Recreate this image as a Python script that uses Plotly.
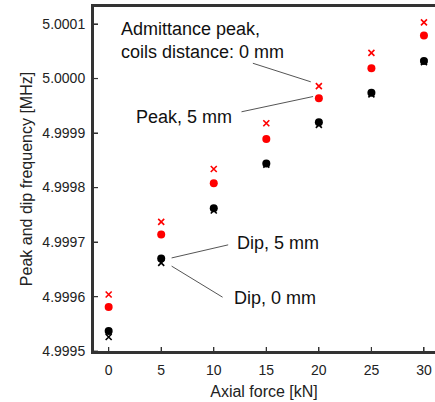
import plotly.graph_objects as go

# axial force [kN]
force = [0, 5, 10, 15, 20, 25, 30]

# peak / dip frequencies [MHz]
peak_0mm = [4.999604, 4.999737, 4.999834, 4.999918, 4.999986, 5.000047, 5.000103]
peak_5mm = [4.999581, 4.999714, 4.999808, 4.999889, 4.999964, 5.000019, 5.000079]
dip_5mm = [4.999537, 4.999670, 4.999762, 4.999844, 4.999920, 4.999974, 5.000032]
dip_0mm = [4.999526, 4.999662, 4.999758, 4.999842, 4.999915, 4.999971, 5.000030]

y_ticks = [4.9995, 4.9996, 4.9997, 4.9998, 4.9999, 5.0000, 5.0001]

font_family = "Liberation Sans, Arial, sans-serif"
axis_col = '#333333'

fig = go.Figure()
fig.add_trace(go.Scatter(x=force, y=peak_0mm, mode='markers',
                         marker=dict(symbol='x-thin', size=6, color='red',
                                     line=dict(color='red', width=1.6))))
fig.add_trace(go.Scatter(x=force, y=dip_0mm, mode='markers',
                         marker=dict(symbol='x-thin', size=6, color='black',
                                     line=dict(color='black', width=1.6))))
fig.add_trace(go.Scatter(x=force, y=peak_5mm, mode='markers',
                         marker=dict(symbol='circle', size=8, color='red')))
fig.add_trace(go.Scatter(x=force, y=dip_5mm, mode='markers',
                         marker=dict(symbol='circle', size=8, color='black')))

# leader lines
leaders = [
    (13.72, 5.000028, 19.23, 4.999994),
    (12.64, 4.999939, 19.45, 4.999967),
    (5.99, 4.999671, 11.37, 4.999695),
    (5.99, 4.999656, 10.84, 4.999599),
]
for x0, y0, x1, y1 in leaders:
    fig.add_shape(type='line', x0=x0, y0=y0, x1=x1, y1=y1, xref='x', yref='y',
                  line=dict(color='#555555', width=1))

labels = [
    (1.0, 5.000069, "Admittance peak,<br>coils distance: 0 mm"),
    (2.4, 4.999930, "Peak, 5 mm"),
    (12.0, 4.999698, "Dip, 5 mm"),
    (11.75, 4.999597, "Dip, 0 mm"),
]
for x, y, t in labels:
    fig.add_annotation(x=x, y=y, text=t, showarrow=False, xanchor='left',
                       yanchor='middle', align='left',
                       font=dict(size=18, color='#111111', family=font_family))

# frame (left, bottom, top) and inside ticks
frame = dict(color=axis_col, width=2)
fig.add_shape(type='line', xref='paper', yref='paper', x0=0, x1=0, y0=0, y1=1, line=frame, layer='above')
fig.add_shape(type='line', xref='paper', yref='paper', x0=0, x1=1, y0=0, y1=0, line=frame, layer='above')
fig.add_shape(type='line', xref='paper', yref='paper', x0=0, x1=1, y0=1, y1=1, line=frame, layer='above')
for v in force:
    fig.add_shape(type='line', xref='x', yref='paper', x0=v, x1=v, y0=0, y1=5 / 346,
                  line=dict(color=axis_col, width=1.2), layer='above')
for v in y_ticks:
    fig.add_shape(type='line', xref='paper', yref='y', x0=0, x1=5 / 342, y0=v, y1=v,
                  line=dict(color=axis_col, width=1.2), layer='above')

fig.update_layout(
    width=435, height=402,
    margin=dict(l=93, r=0, t=6, b=50),
    plot_bgcolor='white', paper_bgcolor='white',
    showlegend=False,
    font=dict(family=font_family, color='#222222'),
)
fig.update_xaxes(range=[-1.49, 31.05], tickvals=force, ticks='inside', ticklen=5,
                 tickcolor=axis_col, showline=True, linecolor=axis_col, linewidth=2,
                 mirror=True, showgrid=False, zeroline=False, automargin=False,
                 tickfont=dict(size=14), ticklabelstandoff=4,
                 title=dict(text='Axial force [kN]', font=dict(size=16), standoff=9))
fig.update_yaxes(range=[4.9995 - 0.0000015, 5.000133], tickvals=y_ticks,
                 tickformat='.4f', ticks='inside', ticklen=5,
                 tickcolor=axis_col, showline=True, linecolor=axis_col, linewidth=2,
                 showgrid=False, zeroline=False, automargin=False,
                 tickfont=dict(size=14), ticklabelstandoff=3,
                 title=dict(text='Peak and dip frequency [MHz]', font=dict(size=16), standoff=6))

fig.write_html("out.html", config={'displayModeBar': False},
               post_script="document.body.style.margin='0';")
